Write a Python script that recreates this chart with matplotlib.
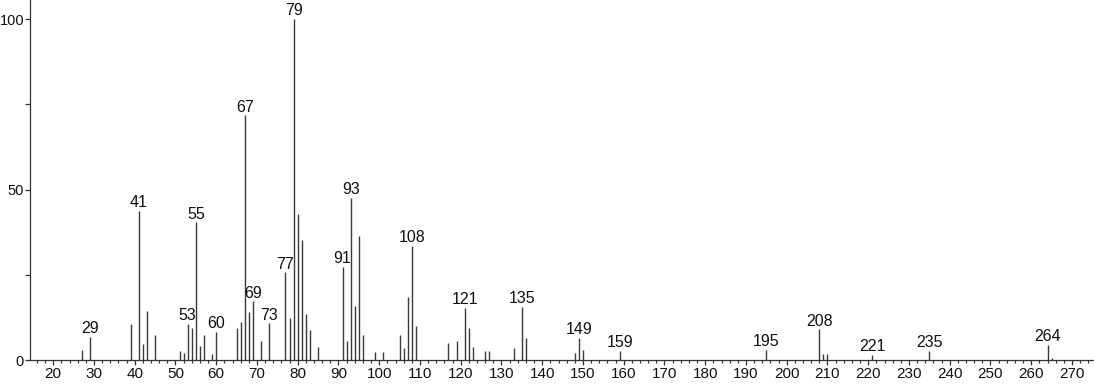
import matplotlib.pyplot as plt
from matplotlib.ticker import MultipleLocator

# m/z and relative intensity
mz = [27, 29, 39, 41, 42, 43, 45, 51, 52, 53, 54, 55, 56, 57, 59, 60,
      65, 66, 67, 68, 69, 71, 73, 77, 78, 79, 80, 81, 82, 83, 85,
      91, 92, 93, 94, 95, 96, 99, 101, 105, 106, 107, 108, 109,
      117, 119, 121, 122, 123, 126, 127, 133, 135, 136,
      148, 149, 150, 159, 195, 208, 209, 210, 221, 235, 264, 265]
intensity = [2.9, 6.8, 10.6, 43.7, 4.7, 14.4, 7.4, 2.6, 2.0, 10.6, 9.5, 40.4, 4.2, 7.3, 1.8, 8.3,
             9.4, 11.1, 71.8, 14.2, 17.2, 5.5, 10.8, 25.7, 12.2, 100, 42.8, 35.2, 13.5, 8.8, 3.7,
             27.4, 5.5, 47.6, 15.9, 36.4, 7.3, 2.4, 2.4, 7.3, 3.4, 18.6, 33.4, 9.9,
             5.0, 5.6, 15.2, 9.4, 3.8, 2.6, 2.6, 3.5, 15.5, 6.5,
             2.0, 6.5, 2.9, 2.6, 2.9, 9.0, 1.8, 1.8, 1.5, 2.6, 4.4, 0.6]
labeled = [29, 41, 53, 55, 60, 67, 69, 73, 77, 79, 91, 93, 108, 121, 135,
           149, 159, 195, 208, 221, 235, 264]

plt.rcParams['font.family'] = ['Liberation Sans', 'DejaVu Sans']

fig = plt.figure(figsize=(10.94, 3.84), dpi=100)
ax = fig.add_axes([0.0274, 0.0625, 0.9726, 0.9375])

ax.vlines(mz, 0, intensity, color='#3a3a3a', linewidth=1.0)

for m, i in zip(mz, intensity):
    if m in labeled:
        ax.text(m, i + 0.2, str(m), ha='center', va='bottom', fontsize=11.5,
                color='#111111', clip_on=False)

ax.set_xlim(14.3, 275.4)
ax.set_ylim(0, 105.6)
ax.xaxis.set_major_locator(MultipleLocator(10))
ax.xaxis.set_minor_locator(MultipleLocator(2))
ax.set_yticks([0, 50, 100])
ax.yaxis.set_minor_locator(MultipleLocator(25))

ax.spines['top'].set_visible(False)
ax.spines['right'].set_visible(False)
for s in ('left', 'bottom'):
    ax.spines[s].set_color('#333333')
    ax.spines[s].set_linewidth(0.9)

ax.tick_params(axis='x', which='major', length=3.8, width=0.9, color='#333333',
               labelsize=11, labelcolor='#111111', pad=1.5)
ax.tick_params(axis='x', which='minor', length=2.3, width=0.9, color='#333333')
ax.tick_params(axis='y', which='major', length=3.8, width=0.9, color='#333333',
               labelsize=10.5, labelcolor='#111111', pad=0.5)
ax.tick_params(axis='y', which='minor', length=3.8, width=0.9, color='#333333')

fig.savefig('out.png', dpi=100)
